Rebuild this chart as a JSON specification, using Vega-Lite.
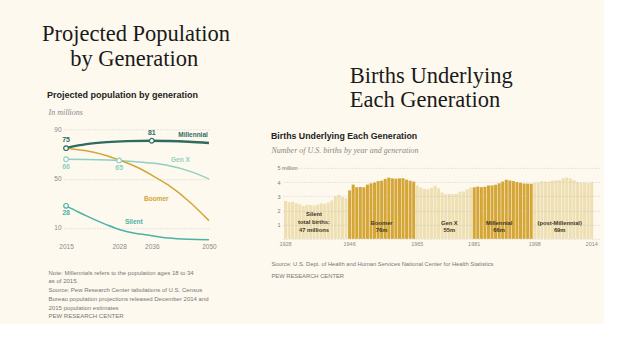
{
  "$schema": "https://vega.github.io/schema/vega-lite/v6.json",
  "background": "#fdf9ee",
  "padding": {"left": 42, "top": 23, "right": 5, "bottom": 5},
  "spacing": 40,
  "center": true,
  "resolve": {"scale": {"color": "independent"}},
  "config": {
    "view": {"stroke": null},
    "font": "Liberation Sans",
    "title": {"font": "Liberation Serif", "fontSize": 22.5, "fontWeight": "normal", "color": "#1a1a1a", "lineHeight": 24.5, "anchor": "start", "subtitleFont": "Liberation Sans", "subtitleFontSize": 9, "subtitleFontWeight": "bold", "subtitleColor": "#222222", "offset": 6},
    "axis": {"labelFont": "Liberation Sans", "labelFontSize": 6.5, "labelColor": "#8a8a8a", "labelOverlap": false, "zindex": 1, "ticks": false, "domain": false, "gridColor": "#bbbbbb", "gridDash": [1, 2], "gridWidth": 0.7, "titleFont": "Liberation Serif", "titleFontStyle": "italic", "titleFontWeight": "normal", "titleColor": "#888888", "titleFontSize": 8}
  },
  "datasets": {
    "lines": [
      {"series": "Millennial", "year": 2015, "value": 75},
      {"series": "Millennial", "year": 2018, "value": 77.2},
      {"series": "Millennial", "year": 2020, "value": 78.3},
      {"series": "Millennial", "year": 2025, "value": 79.9},
      {"series": "Millennial", "year": 2030, "value": 80.7},
      {"series": "Millennial", "year": 2036, "value": 81},
      {"series": "Millennial", "year": 2040, "value": 80.8},
      {"series": "Millennial", "year": 2045, "value": 80.2},
      {"series": "Millennial", "year": 2050, "value": 79.2},
      {"series": "Gen X", "year": 2015, "value": 66},
      {"series": "Gen X", "year": 2020, "value": 65.8},
      {"series": "Gen X", "year": 2025, "value": 65.4},
      {"series": "Gen X", "year": 2028, "value": 65},
      {"series": "Gen X", "year": 2032, "value": 64},
      {"series": "Gen X", "year": 2036, "value": 62.8},
      {"series": "Gen X", "year": 2040, "value": 60.8},
      {"series": "Gen X", "year": 2045, "value": 56.5},
      {"series": "Gen X", "year": 2050, "value": 50},
      {"series": "Boomer", "year": 2015, "value": 75},
      {"series": "Boomer", "year": 2020, "value": 72.8},
      {"series": "Boomer", "year": 2025, "value": 68.8},
      {"series": "Boomer", "year": 2028, "value": 65.3},
      {"series": "Boomer", "year": 2032, "value": 60},
      {"series": "Boomer", "year": 2036, "value": 53},
      {"series": "Boomer", "year": 2040, "value": 45},
      {"series": "Boomer", "year": 2045, "value": 32},
      {"series": "Boomer", "year": 2050, "value": 16},
      {"series": "Silent", "year": 2015, "value": 28},
      {"series": "Silent", "year": 2018, "value": 23},
      {"series": "Silent", "year": 2020, "value": 19.8},
      {"series": "Silent", "year": 2025, "value": 12.5},
      {"series": "Silent", "year": 2028, "value": 8.8},
      {"series": "Silent", "year": 2030, "value": 7},
      {"series": "Silent", "year": 2035, "value": 4.2},
      {"series": "Silent", "year": 2040, "value": 1.8},
      {"series": "Silent", "year": 2045, "value": 0.8},
      {"series": "Silent", "year": 2050, "value": 0.5}
    ],
    "keypoints": [
      {"series": "Millennial", "year": 2015, "value": 75},
      {"series": "Millennial", "year": 2036, "value": 81},
      {"series": "Gen X", "year": 2015, "value": 66},
      {"series": "Gen X", "year": 2028, "value": 65},
      {"series": "Silent", "year": 2015, "value": 28}
    ],
    "serieslabels": [
      {"series": "Millennial", "year": 2046.1, "value": 85.7},
      {"series": "Gen X", "year": 2043, "value": 65.4},
      {"series": "Boomer", "year": 2037.1, "value": 33.8},
      {"series": "Silent", "year": 2031.6, "value": 15.2}
    ],
    "births": [
      {"year": 1928, "births": 2.67, "gen": "Silent"},
      {"year": 1929, "births": 2.58, "gen": "Silent"},
      {"year": 1930, "births": 2.62, "gen": "Silent"},
      {"year": 1931, "births": 2.51, "gen": "Silent"},
      {"year": 1932, "births": 2.44, "gen": "Silent"},
      {"year": 1933, "births": 2.31, "gen": "Silent"},
      {"year": 1934, "births": 2.40, "gen": "Silent"},
      {"year": 1935, "births": 2.38, "gen": "Silent"},
      {"year": 1936, "births": 2.36, "gen": "Silent"},
      {"year": 1937, "births": 2.41, "gen": "Silent"},
      {"year": 1938, "births": 2.50, "gen": "Silent"},
      {"year": 1939, "births": 2.47, "gen": "Silent"},
      {"year": 1940, "births": 2.56, "gen": "Silent"},
      {"year": 1941, "births": 2.70, "gen": "Silent"},
      {"year": 1942, "births": 2.99, "gen": "Silent"},
      {"year": 1943, "births": 3.10, "gen": "Silent"},
      {"year": 1944, "births": 2.94, "gen": "Silent"},
      {"year": 1945, "births": 2.86, "gen": "Silent"},
      {"year": 1946, "births": 3.41, "gen": "Boomer"},
      {"year": 1947, "births": 3.82, "gen": "Boomer"},
      {"year": 1948, "births": 3.64, "gen": "Boomer"},
      {"year": 1949, "births": 3.65, "gen": "Boomer"},
      {"year": 1950, "births": 3.63, "gen": "Boomer"},
      {"year": 1951, "births": 3.82, "gen": "Boomer"},
      {"year": 1952, "births": 3.91, "gen": "Boomer"},
      {"year": 1953, "births": 3.97, "gen": "Boomer"},
      {"year": 1954, "births": 4.07, "gen": "Boomer"},
      {"year": 1955, "births": 4.10, "gen": "Boomer"},
      {"year": 1956, "births": 4.22, "gen": "Boomer"},
      {"year": 1957, "births": 4.31, "gen": "Boomer"},
      {"year": 1958, "births": 4.26, "gen": "Boomer"},
      {"year": 1959, "births": 4.24, "gen": "Boomer"},
      {"year": 1960, "births": 4.26, "gen": "Boomer"},
      {"year": 1961, "births": 4.27, "gen": "Boomer"},
      {"year": 1962, "births": 4.17, "gen": "Boomer"},
      {"year": 1963, "births": 4.10, "gen": "Boomer"},
      {"year": 1964, "births": 4.03, "gen": "Boomer"},
      {"year": 1965, "births": 3.76, "gen": "Gen X"},
      {"year": 1966, "births": 3.61, "gen": "Gen X"},
      {"year": 1967, "births": 3.52, "gen": "Gen X"},
      {"year": 1968, "births": 3.50, "gen": "Gen X"},
      {"year": 1969, "births": 3.60, "gen": "Gen X"},
      {"year": 1970, "births": 3.73, "gen": "Gen X"},
      {"year": 1971, "births": 3.56, "gen": "Gen X"},
      {"year": 1972, "births": 3.26, "gen": "Gen X"},
      {"year": 1973, "births": 3.14, "gen": "Gen X"},
      {"year": 1974, "births": 3.16, "gen": "Gen X"},
      {"year": 1975, "births": 3.14, "gen": "Gen X"},
      {"year": 1976, "births": 3.17, "gen": "Gen X"},
      {"year": 1977, "births": 3.33, "gen": "Gen X"},
      {"year": 1978, "births": 3.33, "gen": "Gen X"},
      {"year": 1979, "births": 3.49, "gen": "Gen X"},
      {"year": 1980, "births": 3.61, "gen": "Gen X"},
      {"year": 1981, "births": 3.63, "gen": "Millennial"},
      {"year": 1982, "births": 3.68, "gen": "Millennial"},
      {"year": 1983, "births": 3.64, "gen": "Millennial"},
      {"year": 1984, "births": 3.67, "gen": "Millennial"},
      {"year": 1985, "births": 3.76, "gen": "Millennial"},
      {"year": 1986, "births": 3.76, "gen": "Millennial"},
      {"year": 1987, "births": 3.81, "gen": "Millennial"},
      {"year": 1988, "births": 3.91, "gen": "Millennial"},
      {"year": 1989, "births": 4.04, "gen": "Millennial"},
      {"year": 1990, "births": 4.16, "gen": "Millennial"},
      {"year": 1991, "births": 4.11, "gen": "Millennial"},
      {"year": 1992, "births": 4.07, "gen": "Millennial"},
      {"year": 1993, "births": 4.00, "gen": "Millennial"},
      {"year": 1994, "births": 3.95, "gen": "Millennial"},
      {"year": 1995, "births": 3.90, "gen": "Millennial"},
      {"year": 1996, "births": 3.89, "gen": "Millennial"},
      {"year": 1997, "births": 3.88, "gen": "Millennial"},
      {"year": 1998, "births": 3.94, "gen": "post-Millennial"},
      {"year": 1999, "births": 3.96, "gen": "post-Millennial"},
      {"year": 2000, "births": 4.06, "gen": "post-Millennial"},
      {"year": 2001, "births": 4.03, "gen": "post-Millennial"},
      {"year": 2002, "births": 4.02, "gen": "post-Millennial"},
      {"year": 2003, "births": 4.09, "gen": "post-Millennial"},
      {"year": 2004, "births": 4.11, "gen": "post-Millennial"},
      {"year": 2005, "births": 4.14, "gen": "post-Millennial"},
      {"year": 2006, "births": 4.27, "gen": "post-Millennial"},
      {"year": 2007, "births": 4.32, "gen": "post-Millennial"},
      {"year": 2008, "births": 4.25, "gen": "post-Millennial"},
      {"year": 2009, "births": 4.13, "gen": "post-Millennial"},
      {"year": 2010, "births": 4.00, "gen": "post-Millennial"},
      {"year": 2011, "births": 3.95, "gen": "post-Millennial"},
      {"year": 2012, "births": 3.95, "gen": "post-Millennial"},
      {"year": 2013, "births": 3.93, "gen": "post-Millennial"},
      {"year": 2014, "births": 3.99, "gen": "post-Millennial"}
    ],
    "genlabels": [
      {"year": 1936, "gen": "Silent", "label": "Silent\ntotal births:\n47 millions"},
      {"year": 1955, "gen": "Boomer", "label": "Boomer\n76m"},
      {"year": 1974, "gen": "Gen X", "label": "Gen X\n55m"},
      {"year": 1988, "gen": "Millennial", "label": "Millennial\n66m"},
      {"year": 2005, "gen": "post-Millennial", "label": "(post-Millennial)\n69m"}
    ]
  },
  "hconcat": [
    {
      "title": {
        "text": ["Projected Population", "\u200d\u00a0\u00a0\u00a0\u00a0\u00a0by Generation"],
        "subtitle": "\u200d\u00a0\u00a0Projected population by generation",
        "dx": -6,
        "offset": 8,
        "subtitlePadding": 21
      },
      "width": 147,
      "height": 113,
      "layer": [
        {
          "data": {"name": "lines"},
          "mark": {"type": "line", "interpolate": "monotone"},
          "encoding": {
            "x": {
              "field": "year", "type": "quantitative",
              "scale": {"domain": [2014.5, 2050.5], "nice": false, "zero": false},
              "axis": {
                "values": [2015, 2028, 2036, 2050], "format": "d", "grid": false, "labelPadding": 3,
                "title": ["Note: Millennials refers to the population ages 18 to 34", "as of 2015.", "Source: Pew Research Center tabulations of U.S. Census", "Bureau population projections released December 2014 and", "2015 population estimates", "PEW RESEARCH CENTER"],
                "titleX": -16, "titleY": 29, "titleAlign": "left", "titleAnchor": "start", "titleBaseline": "top",
                "titleFont": "Liberation Sans", "titleFontStyle": "normal", "titleFontSize": 6, "titleColor": "#777777", "titleLineHeight": 8.7
              }
            },
            "y": {
              "field": "value", "type": "quantitative",
              "scale": {"domain": [0, 92], "nice": false},
              "axis": {
                "values": [10, 20, 30, 40, 50, 60, 70, 80, 90],
                "labelExpr": "datum.value % 20 == 10 ? datum.label : ''",
                "labelPadding": 3,
                "title": "In millions", "titleAngle": 0, "titleX": -16, "titleY": -15, "titleAlign": "left", "titleBaseline": "middle"
              }
            },
            "color": {
              "field": "series", "type": "nominal",
              "scale": {"domain": ["Millennial", "Gen X", "Boomer", "Silent"], "range": ["#2f6b5e", "#8ed0c3", "#d4a535", "#4cb2a4"]},
              "legend": null
            },
            "strokeWidth": {"condition": {"test": "datum.series === 'Millennial'", "value": 2.4}, "value": 1.5}
          }
        },
        {
          "data": {"name": "keypoints"},
          "mark": {"type": "point", "filled": false, "fill": "white", "size": 22, "strokeWidth": 1.2, "opacity": 1},
          "encoding": {
            "x": {"field": "year", "type": "quantitative"},
            "y": {"field": "value", "type": "quantitative"},
            "color": {"field": "series", "type": "nominal", "legend": null}
          }
        },
        {
          "data": {"name": "keypoints"},
          "transform": [{"filter": "datum.series === 'Millennial'"}],
          "mark": {"type": "text", "dy": -8, "fontSize": 7, "fontWeight": "bold"},
          "encoding": {
            "x": {"field": "year", "type": "quantitative"},
            "y": {"field": "value", "type": "quantitative"},
            "text": {"field": "value", "type": "quantitative"},
            "color": {"field": "series", "type": "nominal", "legend": null}
          }
        },
        {
          "data": {"name": "keypoints"},
          "transform": [{"filter": "datum.series !== 'Millennial'"}],
          "mark": {"type": "text", "dy": 7.5, "fontSize": 7, "fontWeight": "bold"},
          "encoding": {
            "x": {"field": "year", "type": "quantitative"},
            "y": {"field": "value", "type": "quantitative"},
            "text": {"field": "value", "type": "quantitative"},
            "color": {"field": "series", "type": "nominal", "legend": null}
          }
        },
        {
          "data": {"name": "serieslabels"},
          "mark": {"type": "text", "fontSize": 6.5, "fontWeight": "bold"},
          "encoding": {
            "x": {"field": "year", "type": "quantitative"},
            "y": {"field": "value", "type": "quantitative"},
            "text": {"field": "series", "type": "nominal"},
            "color": {"field": "series", "type": "nominal", "legend": null}
          }
        }
      ]
    },
    {
      "title": {
        "text": ["\u200d\u00a0\u00a0\u00a0\u00a0\u00a0\u00a0\u00a0\u00a0\u00a0\u00a0\u00a0\u00a0\u00a0\u00a0Births Underlying", "\u200d\u00a0\u00a0\u00a0\u00a0\u00a0\u00a0\u00a0\u00a0\u00a0\u00a0\u00a0\u00a0\u00a0\u00a0Each Generation"],
        "subtitle": "Births Underlying Each Generation",
        "subtitleFontSize": 8.8,
        "offset": 6,
        "subtitlePadding": 20
      },
      "width": 316,
      "height": 71,
      "layer": [
        {
          "data": {"name": "births"},
          "mark": {"type": "bar"},
          "encoding": {
            "x": {
              "field": "year", "type": "ordinal",
              "scale": {"paddingInner": 0.15, "paddingOuter": 0.95, "align": 0.15},
              "axis": {
                "values": [1928, 1946, 1965, 1981, 1998, 2014], "labelAngle": 0, "labelPadding": 3, "labelFontSize": 5.5,
                "title": ["Source: U.S. Dept. of Health and Human Services National Center for Health Statistics", "PEW RESEARCH CENTER"],
                "titleX": -12, "titleY": 21.5, "titleAlign": "left", "titleAnchor": "start", "titleBaseline": "top",
                "titleFont": "Liberation Sans", "titleFontStyle": "normal", "titleFontSize": 5.8, "titleColor": "#777777", "titleLineHeight": 12
              }
            },
            "y": {
              "field": "births", "type": "quantitative",
              "scale": {"domain": [0, 5], "nice": false},
              "axis": {
                "tickCount": 5,
                "labelExpr": "datum.value == 0 ? '' : datum.value == 5 ? '5 million' : datum.label",
                "labelAlign": "left", "labelPadding": 6, "labelFontSize": 5.5, "labelColor": "#7a7a7a", "labelOverlap": false, "labelSeparation": 0, "labelBound": false, "labelFlush": false, "zindex": 2,
                "title": "Number of U.S. births by year and generation", "titleAngle": 0, "titleX": -12, "titleY": -17.5, "titleAlign": "left", "titleBaseline": "middle"
              }
            },
            "color": {
              "field": "gen", "type": "nominal",
              "scale": {"domain": ["Silent", "Boomer", "Gen X", "Millennial", "post-Millennial"], "range": ["#eee0b3", "#d5a635", "#eee0b3", "#d5a635", "#eee0b3"]},
              "legend": null
            }
          }
        },
        {
          "data": {"name": "genlabels"},
          "transform": [{"filter": "datum.gen !== 'Silent'"}],
          "mark": {"type": "text", "lineBreak": "\n", "baseline": "alphabetic", "fontSize": 5.8, "fontWeight": "bold", "color": "#3d3522", "lineHeight": 7.6},
          "encoding": {
            "x": {"field": "year", "type": "ordinal"},
            "y": {"datum": 0.99, "type": "quantitative"},
            "text": {"field": "label", "type": "nominal"}
          }
        },
        {
          "data": {"name": "genlabels"},
          "transform": [{"filter": "datum.gen === 'Silent'"}],
          "mark": {"type": "text", "lineBreak": "\n", "baseline": "alphabetic", "fontSize": 5.8, "fontWeight": "bold", "color": "#3d3522", "lineHeight": 8},
          "encoding": {
            "x": {"field": "year", "type": "ordinal"},
            "y": {"datum": 1.62, "type": "quantitative"},
            "text": {"field": "label", "type": "nominal"}
          }
        }
      ]
    }
  ]
}
